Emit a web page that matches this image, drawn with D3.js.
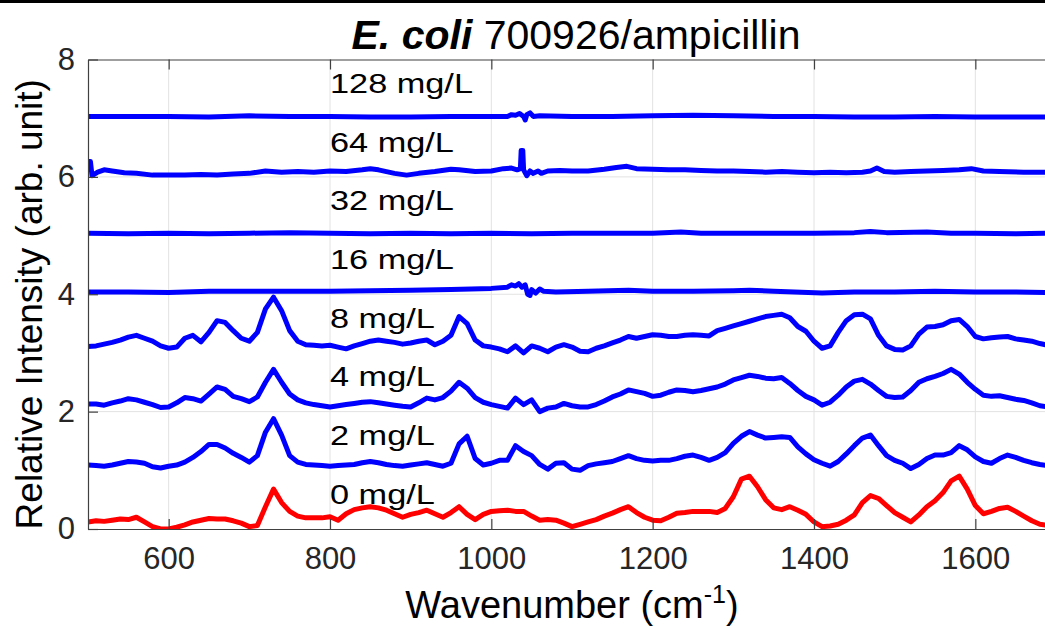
<!DOCTYPE html>
<html><head><meta charset="utf-8">
<script src="https://cdn.jsdelivr.net/npm/d3@7"></script>
<style>
body{margin:0;background:#fff}
svg{display:block}
text{font-family:"Liberation Sans",Arial,Helvetica,sans-serif}
</style>
</head><body>
<svg id="chart" width="1045" height="628"></svg>
<script>
// ---------- DATA ----------
const titleItalic = "E. coli";
const titleRest = " 700926/ampicillin";
const xLabel = "Wavenumber (cm";
const yLabel = "Relative Intensity (arb. unit)";
const xTicks = [600, 800, 1000, 1200, 1400, 1600];
const yTicks = [0, 2, 4, 6, 8];
const labels = ["0 mg/L", "2 mg/L", "4 mg/L", "8 mg/L", "16 mg/L", "32 mg/L", "64 mg/L", "128 mg/L"];
const labelLevel = [0, 1, 2, 3, 4, 5, 6, 7];

const wavenumber = [
 500,510,520,530,540,550,560,570,580,590,600,610,620,630,640,650,660,670,680,690,
 700,710,720,730,740,750,760,770,780,790,800,810,820,830,840,850,860,870,880,890,
 900,910,920,930,940,950,960,970,980,990,1000,1010,1020,1030,1040,1050,1060,1070,1080,1090,
 1100,1110,1120,1130,1140,1150,1160,1170,1180,1190,1200,1210,1220,1230,1240,1250,1260,1270,1280,1290,
 1300,1310,1320,1330,1340,1350,1360,1370,1380,1390,1400,1410,1420,1430,1440,1450,1460,1470,1480,1490,
 1500,1510,1520,1530,1540,1550,1560,1570,1580,1590,1600,1610,1620,1630,1640,1650,1660,1670,1680,1690];

const mg0 = [0.12,0.14,0.13,0.15,0.17,0.16,0.2,0.12,0.04,0.0,
 0.0,0.03,0.07,0.12,0.15,0.18,0.17,0.17,0.14,0.1,
 0.04,0.06,0.38,0.68,0.45,0.3,0.22,0.19,0.19,0.19,
 0.21,0.15,0.26,0.33,0.36,0.38,0.36,0.32,0.26,0.2,
 0.25,0.28,0.32,0.26,0.2,0.28,0.38,0.25,0.16,0.25,
 0.3,0.31,0.32,0.3,0.3,0.22,0.15,0.16,0.15,0.1,
 0.04,0.08,0.12,0.16,0.22,0.27,0.33,0.38,0.28,0.2,
 0.15,0.14,0.2,0.27,0.28,0.3,0.3,0.3,0.28,0.35,
 0.55,0.85,0.9,0.72,0.5,0.36,0.33,0.38,0.32,0.25,
 0.12,0.04,0.05,0.08,0.15,0.24,0.45,0.57,0.52,0.4,
 0.28,0.2,0.12,0.24,0.38,0.48,0.62,0.82,0.9,0.68,
 0.4,0.26,0.3,0.35,0.37,0.3,0.22,0.14,0.08,0.06];

const mg2 = [1.09,1.08,1.07,1.09,1.12,1.15,1.14,1.12,1.06,1.04,
 1.07,1.09,1.14,1.22,1.32,1.44,1.44,1.38,1.29,1.22,
 1.14,1.25,1.65,1.88,1.6,1.25,1.14,1.1,1.09,1.08,
 1.07,1.08,1.09,1.1,1.13,1.15,1.13,1.1,1.08,1.07,
 1.09,1.11,1.13,1.1,1.07,1.12,1.45,1.58,1.2,1.09,
 1.12,1.17,1.17,1.42,1.32,1.25,1.1,1.02,1.12,1.13,
 1.02,1.0,1.08,1.11,1.13,1.15,1.2,1.25,1.2,1.17,
 1.16,1.17,1.17,1.2,1.24,1.26,1.22,1.17,1.22,1.3,
 1.46,1.58,1.66,1.6,1.55,1.56,1.57,1.56,1.4,1.28,
 1.18,1.12,1.07,1.15,1.28,1.42,1.55,1.6,1.42,1.25,
 1.17,1.12,1.03,1.1,1.2,1.26,1.26,1.3,1.42,1.35,
 1.23,1.15,1.12,1.2,1.26,1.22,1.17,1.13,1.1,1.08];

const mg4 = [2.13,2.13,2.11,2.15,2.18,2.22,2.2,2.16,2.12,2.07,
 2.08,2.15,2.24,2.22,2.18,2.3,2.42,2.38,2.26,2.22,
 2.17,2.25,2.5,2.72,2.5,2.3,2.2,2.15,2.12,2.1,
 2.08,2.1,2.12,2.14,2.16,2.17,2.15,2.13,2.11,2.09,
 2.08,2.15,2.23,2.2,2.24,2.35,2.5,2.4,2.24,2.16,
 2.12,2.09,2.06,2.23,2.12,2.2,2.0,2.06,2.08,2.14,
 2.1,2.08,2.08,2.12,2.18,2.25,2.3,2.37,2.34,2.31,
 2.26,2.28,2.33,2.37,2.36,2.34,2.36,2.39,2.42,2.47,
 2.54,2.58,2.62,2.6,2.57,2.56,2.58,2.48,2.36,2.26,
 2.2,2.11,2.16,2.28,2.42,2.52,2.55,2.47,2.36,2.26,
 2.24,2.25,2.36,2.5,2.56,2.6,2.65,2.72,2.64,2.5,
 2.38,2.28,2.26,2.27,2.24,2.21,2.19,2.15,2.1,2.08];

const mg8 = [3.11,3.12,3.15,3.18,3.22,3.27,3.3,3.25,3.2,3.12,
 3.08,3.1,3.25,3.3,3.19,3.35,3.55,3.52,3.38,3.25,
 3.2,3.35,3.75,3.95,3.72,3.38,3.2,3.14,3.13,3.12,
 3.13,3.1,3.07,3.12,3.16,3.2,3.22,3.2,3.18,3.15,
 3.17,3.2,3.22,3.14,3.2,3.3,3.62,3.5,3.22,3.12,
 3.1,3.07,3.02,3.12,3.0,3.12,3.08,3.02,3.1,3.14,
 3.1,3.03,3.02,3.08,3.12,3.17,3.22,3.28,3.25,3.28,
 3.31,3.3,3.28,3.28,3.3,3.31,3.3,3.29,3.38,3.42,
 3.46,3.5,3.54,3.58,3.62,3.64,3.66,3.6,3.45,3.37,
 3.2,3.08,3.12,3.35,3.55,3.65,3.66,3.58,3.3,3.12,
 3.06,3.05,3.12,3.32,3.44,3.45,3.48,3.55,3.57,3.45,
 3.28,3.24,3.26,3.27,3.28,3.24,3.22,3.2,3.16,3.13];

// near-flat spectra: [wavenumber, value] points
const mg16 = [[500,4.04],[550,4.04],[600,4.03],[650,4.05],[700,4.05],[750,4.05],[800,4.05],[850,4.06],[900,4.07],
 [950,4.08],[1000,4.1],[1020,4.12],[1025,4.16],[1030,4.14],[1034,4.18],[1038,4.12],[1042,4.16],[1045,4.0],[1048,3.98],
 [1050,4.08],[1055,4.02],[1060,4.09],[1065,4.05],[1080,4.04],[1120,4.05],[1170,4.07],[1200,4.05],[1250,4.05],
 [1300,4.06],[1320,4.07],[1350,4.05],[1410,4.02],[1450,4.04],[1500,4.04],[1550,4.05],[1600,4.04],[1650,4.04],[1690,4.03]];

const mg32 = [[500,5.04],[550,5.03],[600,5.04],[650,5.03],[700,5.04],[750,5.05],[800,5.04],[850,5.03],[900,5.04],
 [950,5.03],[1000,5.04],[1050,5.03],[1100,5.04],[1150,5.04],[1200,5.04],[1235,5.06],[1260,5.04],[1300,5.04],
 [1350,5.04],[1400,5.04],[1450,5.05],[1470,5.07],[1490,5.05],[1540,5.06],[1570,5.04],[1600,5.04],[1650,5.03],[1690,5.04]];

const mg64 = [[500,6.26],[503,6.26],[505,6.02],[512,6.08],[520,6.12],[530,6.1],[545,6.07],[560,6.06],[580,6.03],
 [600,6.03],[620,6.03],[640,6.04],[660,6.03],[680,6.05],[700,6.06],[720,6.1],[740,6.08],[760,6.09],[780,6.08],
 [800,6.1],[820,6.09],[840,6.12],[850,6.14],[860,6.12],[880,6.06],[895,6.03],[910,6.06],[930,6.09],[950,6.13],
 [960,6.12],[980,6.09],[1000,6.1],[1015,6.14],[1025,6.15],[1032,6.12],[1036,6.14],[1037,6.45],[1039,6.45],
 [1040,6.12],[1044,6.02],[1048,6.1],[1052,6.06],[1058,6.1],[1062,6.06],[1070,6.1],[1085,6.11],[1100,6.1],
 [1120,6.1],[1140,6.13],[1155,6.16],[1168,6.18],[1180,6.14],[1200,6.13],[1220,6.12],[1240,6.12],[1260,6.11],
 [1280,6.1],[1300,6.1],[1320,6.09],[1340,6.08],[1360,6.09],[1380,6.08],[1400,6.07],[1420,6.08],[1440,6.07],
 [1460,6.08],[1470,6.1],[1478,6.15],[1487,6.09],[1500,6.08],[1520,6.09],[1540,6.1],[1560,6.11],[1580,6.12],
 [1595,6.14],[1610,6.1],[1630,6.09],[1660,6.08],[1690,6.08]];

const mg128 = [[500,7.03],[560,7.03],[600,7.03],[650,7.02],[700,7.04],[750,7.03],[800,7.03],[850,7.02],[900,7.02],
 [950,7.03],[1000,7.03],[1020,7.03],[1025,7.06],[1030,7.05],[1035,7.08],[1040,7.03],[1042,6.97],[1044,7.06],
 [1048,7.09],[1052,7.03],[1060,7.04],[1100,7.03],[1150,7.03],[1200,7.04],[1250,7.05],[1300,7.04],[1350,7.03],
 [1400,7.03],[1450,7.02],[1500,7.02],[1550,7.03],[1600,7.02],[1650,7.02],[1690,7.02]];

// ---------- CHART ----------
const svg = d3.select("#chart");
const W = 1045, H = 628;
const x = d3.scaleLinear().domain([500, 1700]).range([88, 1056]);
const y = d3.scaleLinear().domain([0, 8]).range([529, 59.5]);
const axisColor = "#404040";

svg.append("rect").attr("x", 0).attr("y", 0).attr("width", W).attr("height", 3).attr("fill", "#000");

// grid
const grid = svg.append("g");
grid.selectAll("line.vx").data(xTicks).join("line")
  .attr("x1", d => x(d)).attr("x2", d => x(d)).attr("y1", y(8)).attr("y2", y(0))
  .attr("stroke", "#e2e2e2").attr("stroke-width", 1);
grid.selectAll("line.hy").data(yTicks.filter(d => d > 0 && d < 8)).join("line")
  .attr("x1", x(500)).attr("x2", x(1700)).attr("y1", d => y(d)).attr("y2", d => y(d))
  .attr("stroke", "#e2e2e2").attr("stroke-width", 1);

// clip
svg.append("clipPath").attr("id", "plotclip").append("rect")
  .attr("x", x(500)).attr("y", y(8)).attr("width", x(1700) - x(500)).attr("height", y(0) - y(8));

const line = d3.line().x(d => x(d[0])).y(d => y(d[1]));
const gridSeries = [mg0, mg2, mg4, mg8].map(v => v.map((val, i) => [wavenumber[i], val]));
const allSeries = [...gridSeries, mg16, mg32, mg64, mg128];
const colors = labels.map((l, i) => i === 0 ? "#ff0000" : "#0000ff");

const plot = svg.append("g").attr("clip-path", "url(#plotclip)");
plot.selectAll("path").data(allSeries).join("path")
  .attr("d", d => line(d))
  .attr("fill", "none")
  .attr("stroke", (d, i) => colors[i])
  .attr("stroke-width", 5)
  .attr("stroke-linejoin", "round")
  .attr("stroke-linecap", "round");

// axes
const fs = 31;
const fmt = d3.format("d");
const gx = svg.append("g").attr("transform", `translate(0,${y(0)})`)
  .call(d3.axisBottom(x).tickValues(xTicks).tickFormat(fmt).tickSizeInner(-10).tickSizeOuter(0).tickPadding(18));
const gxTop = svg.append("g").attr("transform", `translate(0,${y(8)})`)
  .call(d3.axisTop(x).tickValues(xTicks).tickSizeInner(-10).tickSizeOuter(0).tickFormat(""));
const gy = svg.append("g").attr("transform", `translate(${x(500)},0)`)
  .call(d3.axisLeft(y).tickValues(yTicks).tickFormat(fmt).tickSizeInner(-10).tickSizeOuter(0).tickPadding(13));
[gx, gxTop, gy].forEach(g => {
  g.select(".domain").attr("stroke", axisColor).attr("stroke-width", 1.2);
  g.selectAll(".tick line").attr("stroke", axisColor).attr("stroke-width", 1.2);
  g.selectAll(".tick text").attr("fill", "#262626").attr("font-size", fs)
    .attr("font-family", '"Liberation Sans",Arial,sans-serif');
});

// series labels
svg.append("g").selectAll("text").data(labels).join("text")
  .attr("transform", (d, i) => `translate(${x(800)},${y(labelLevel[i] + 0.43)}) scale(1.27,1)`)
  .attr("font-size", 27).attr("fill", "#000")
  .text(d => d);

// title
const title = svg.append("text").attr("x", 576).attr("y", 49).attr("text-anchor", "middle")
  .attr("font-size", 41).attr("fill", "#000");
title.append("tspan").attr("font-weight", "bold").attr("font-style", "italic").text(titleItalic);
title.append("tspan").text(titleRest);

// x label
const xl = svg.append("text").attr("x", x(1100)).attr("y", 618).attr("text-anchor", "middle")
  .attr("font-size", 38).attr("fill", "#000");
xl.append("tspan").text(xLabel);
xl.append("tspan").attr("font-size", 25).attr("dy", -15).text("-1");
xl.append("tspan").attr("dy", 15).text(")");

// y label
svg.append("text").attr("transform", `translate(42,${(y(0) + y(8)) / 2 + 10}) rotate(-90)`)
  .attr("text-anchor", "middle").attr("font-size", 37).attr("fill", "#000")
  .text(yLabel);
</script>
</body></html>
